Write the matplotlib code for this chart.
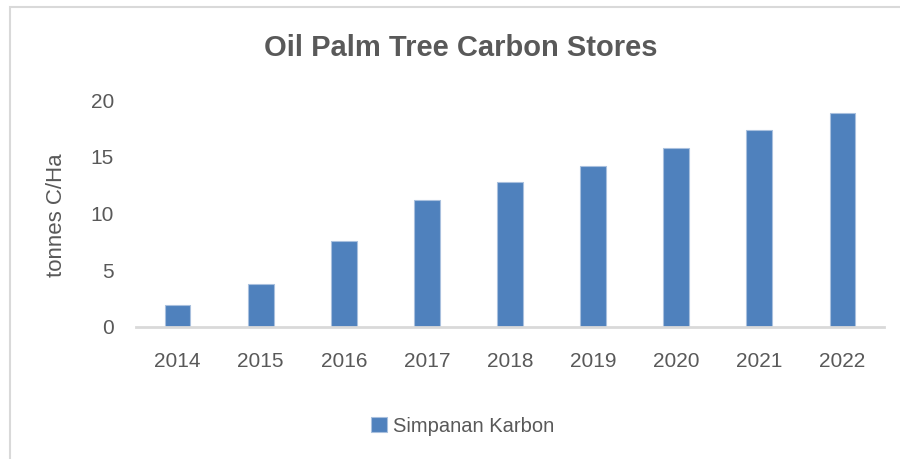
import matplotlib
matplotlib.use("Agg")
from matplotlib import pyplot as plt
from matplotlib.patches import Rectangle

years = ["2014", "2015", "2016", "2017", "2018", "2019", "2020", "2021", "2022"]
carbon = [1.9, 3.8, 7.55, 11.15, 12.75, 14.2, 15.75, 17.35, 18.85]
series_name = "Simpanan Karbon"
title = "Oil Palm Tree Carbon Stores"
ylabel = "tonnes C/Ha"

plt.rcParams['font.family'] = ['Liberation Sans', 'DejaVu Sans']
text_color = "#595959"
bar_color = "#4F81BD"
grid_gray = "#D9D9D9"

fig = plt.figure(figsize=(9, 4.59), dpi=100)
ax = fig.add_axes([136/900, 1 - 327/459, 748/900, 227/459])

x = range(len(years))
ax.bar(x, carbon, width=0.31, color=bar_color, edgecolor="#A9C0DE", linewidth=0.8,
       label=series_name, zorder=2)

ax.set_xlim(-0.5, len(years) - 0.5)
ax.set_ylim(0, 20)
ax.set_yticks([0, 5, 10, 15, 20])
ax.set_xticks(list(x))
ax.set_xticklabels(years)

for side in ["top", "right", "left"]:
    ax.spines[side].set_visible(False)
ax.spines["bottom"].set_color(grid_gray)
ax.spines["bottom"].set_linewidth(2)
ax.tick_params(axis="both", length=0, colors=text_color, labelsize=15)
ax.tick_params(axis="y", pad=16)
ax.tick_params(axis="x", pad=18)

# axis title placed by hand, like the original chart
fig.text(56/900, 1 - 215/459, ylabel, rotation=90, ha="center", va="center",
         fontsize=16, color=text_color)

fig.text(461/900, 1 - 48/459, title, ha="center", va="center", fontsize=21,
         fontweight="bold", color=text_color)

fig.legend(loc="center", bbox_to_anchor=(463/900, 1 - 426/459), frameon=False,
           fontsize=14.5, handlelength=0.8, handleheight=0.8, handletextpad=0.3,
           labelcolor=text_color)

# chart area frame (cut off at right and bottom)
fig.patches.append(Rectangle((10/900, -0.1), 1.2, 1.1 - 7.5/459, transform=fig.transFigure,
                             fill=False, edgecolor=grid_gray, linewidth=1.5))

fig.savefig("out.png", dpi=100)
